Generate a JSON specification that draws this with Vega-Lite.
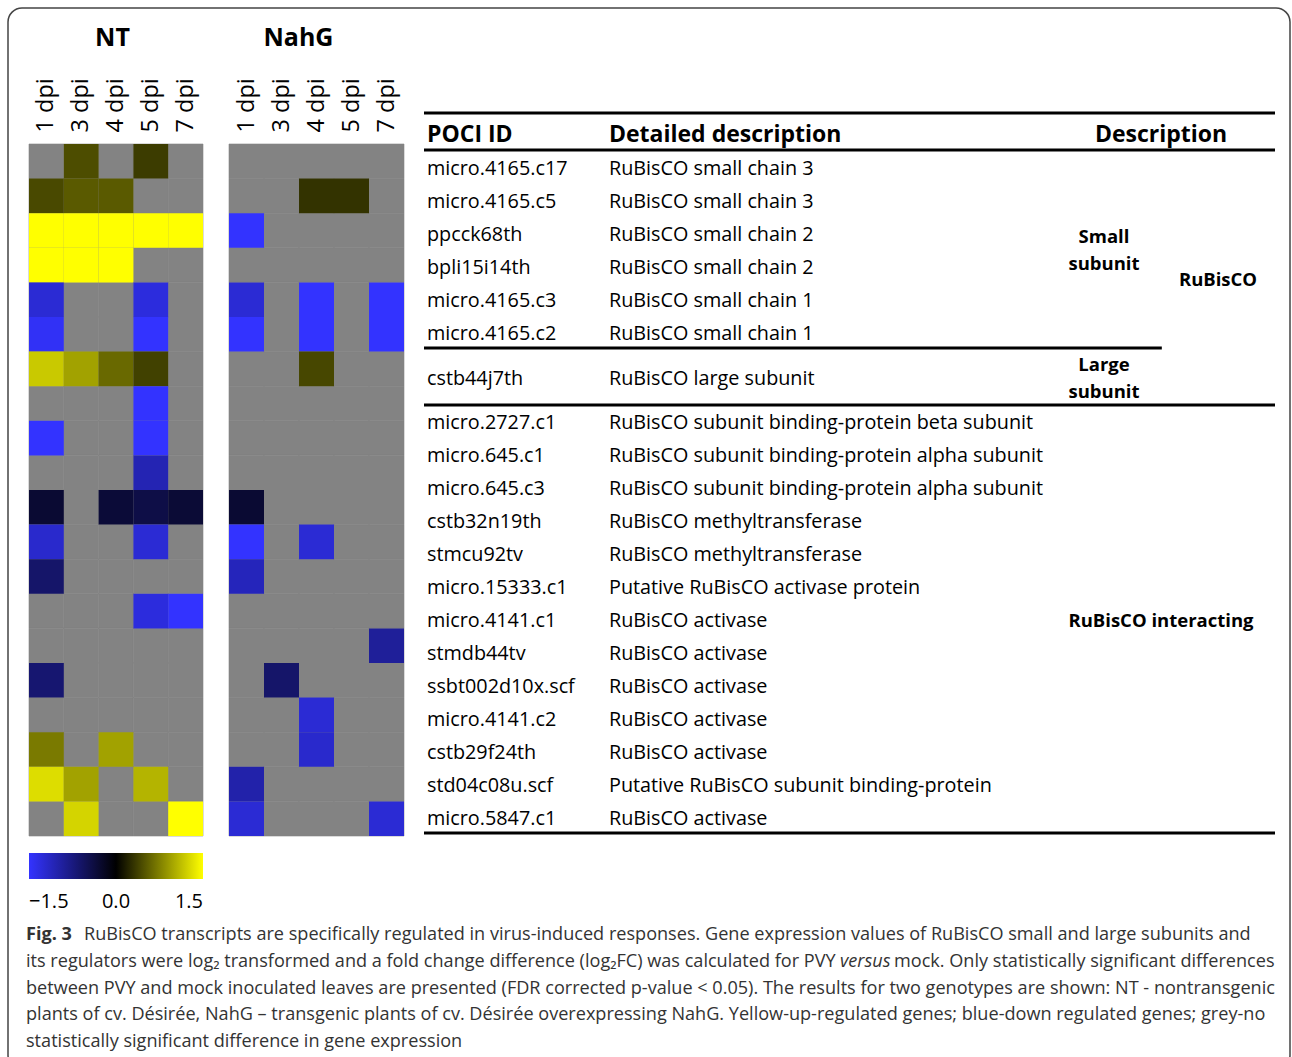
{
  "$schema": "https://vega.github.io/schema/vega-lite/v6.json",
  "width": 1282,
  "height": 1061,
  "padding": {"left": 8, "top": 8, "right": 2, "bottom": -12},
  "autosize": {"type": "none"},
  "background": "white",
  "config": {
    "view": {"stroke": "#444444", "strokeWidth": 1.5, "cornerRadius": 14},
    "font": "Open Sans",
    "text": {"font": "Open Sans", "color": "black"}
  },
  "datasets": {
    "genes": [
      {"id": "micro.4165.c17", "detail": "RuBisCO small chain 3", "grp": "small", "cls": "RuBisCO"},
      {"id": "micro.4165.c5", "detail": "RuBisCO small chain 3", "grp": "small", "cls": "RuBisCO"},
      {"id": "ppcck68th", "detail": "RuBisCO small chain 2", "grp": "small", "cls": "RuBisCO"},
      {"id": "bpli15i14th", "detail": "RuBisCO small chain 2", "grp": "small", "cls": "RuBisCO"},
      {"id": "micro.4165.c3", "detail": "RuBisCO small chain 1", "grp": "small", "cls": "RuBisCO"},
      {"id": "micro.4165.c2", "detail": "RuBisCO small chain 1", "grp": "small", "cls": "RuBisCO"},
      {"id": "cstb44j7th", "detail": "RuBisCO large subunit", "grp": "large", "cls": "RuBisCO"},
      {"id": "micro.2727.c1", "detail": "RuBisCO subunit binding-protein beta subunit", "grp": "inter", "cls": null},
      {"id": "micro.645.c1", "detail": "RuBisCO subunit binding-protein alpha subunit", "grp": "inter", "cls": null},
      {"id": "micro.645.c3", "detail": "RuBisCO subunit binding-protein alpha subunit", "grp": "inter", "cls": null},
      {"id": "cstb32n19th", "detail": "RuBisCO methyltransferase", "grp": "inter", "cls": null},
      {"id": "stmcu92tv", "detail": "RuBisCO methyltransferase", "grp": "inter", "cls": null},
      {"id": "micro.15333.c1", "detail": "Putative RuBisCO activase protein", "grp": "inter", "cls": null},
      {"id": "micro.4141.c1", "detail": "RuBisCO activase", "grp": "inter", "cls": null},
      {"id": "stmdb44tv", "detail": "RuBisCO activase", "grp": "inter", "cls": null},
      {"id": "ssbt002d10x.scf", "detail": "RuBisCO activase", "grp": "inter", "cls": null},
      {"id": "micro.4141.c2", "detail": "RuBisCO activase", "grp": "inter", "cls": null},
      {"id": "cstb29f24th", "detail": "RuBisCO activase", "grp": "inter", "cls": null},
      {"id": "std04c08u.scf", "detail": "Putative RuBisCO subunit binding-protein", "grp": "inter", "cls": null},
      {"id": "micro.5847.c1", "detail": "RuBisCO activase", "grp": "inter", "cls": null}
    ],
    "groups": [
      {"grp": "small", "label": ["Small", "subunit"], "col": "sub"},
      {"grp": "large", "label": ["Large", "subunit"], "col": "sub"},
      {"grp": "inter", "label": "RuBisCO interacting", "col": "all"},
      {"grp": "RuBisCO", "label": "RuBisCO", "col": "cls"}
    ],
    "nt": [
      {"id": "micro.4165.c17", "1 dpi": null, "3 dpi": 0.45, "4 dpi": null, "5 dpi": 0.35, "7 dpi": null},
      {"id": "micro.4165.c5", "1 dpi": 0.43, "3 dpi": 0.53, "4 dpi": 0.53, "5 dpi": null, "7 dpi": null},
      {"id": "ppcck68th", "1 dpi": 1.9, "3 dpi": 1.8, "4 dpi": 1.9, "5 dpi": 1.7, "7 dpi": 1.6},
      {"id": "bpli15i14th", "1 dpi": 1.8, "3 dpi": 1.9, "4 dpi": 1.7, "5 dpi": null, "7 dpi": null},
      {"id": "micro.4165.c3", "1 dpi": -1.25, "3 dpi": null, "4 dpi": null, "5 dpi": -1.3, "7 dpi": null},
      {"id": "micro.4165.c2", "1 dpi": -1.45, "3 dpi": null, "4 dpi": null, "5 dpi": -1.5, "7 dpi": null},
      {"id": "cstb44j7th", "1 dpi": 1.18, "3 dpi": 0.95, "4 dpi": 0.62, "5 dpi": 0.38, "7 dpi": null},
      {"id": "micro.2727.c1", "1 dpi": null, "3 dpi": null, "4 dpi": null, "5 dpi": -1.6, "7 dpi": null},
      {"id": "micro.645.c1", "1 dpi": -1.5, "3 dpi": null, "4 dpi": null, "5 dpi": -1.6, "7 dpi": null},
      {"id": "micro.645.c3", "1 dpi": null, "3 dpi": null, "4 dpi": null, "5 dpi": -1.05, "7 dpi": null},
      {"id": "cstb32n19th", "1 dpi": -0.3, "3 dpi": null, "4 dpi": -0.33, "5 dpi": -0.42, "7 dpi": -0.32},
      {"id": "stmcu92tv", "1 dpi": -1.2, "3 dpi": null, "4 dpi": null, "5 dpi": -1.25, "7 dpi": null},
      {"id": "micro.15333.c1", "1 dpi": -0.62, "3 dpi": null, "4 dpi": null, "5 dpi": null, "7 dpi": null},
      {"id": "micro.4141.c1", "1 dpi": null, "3 dpi": null, "4 dpi": null, "5 dpi": -1.3, "7 dpi": -1.5},
      {"id": "stmdb44tv", "1 dpi": null, "3 dpi": null, "4 dpi": null, "5 dpi": null, "7 dpi": null},
      {"id": "ssbt002d10x.scf", "1 dpi": -0.66, "3 dpi": null, "4 dpi": null, "5 dpi": null, "7 dpi": null},
      {"id": "micro.4141.c2", "1 dpi": null, "3 dpi": null, "4 dpi": null, "5 dpi": null, "7 dpi": null},
      {"id": "cstb29f24th", "1 dpi": 0.72, "3 dpi": null, "4 dpi": 0.95, "5 dpi": null, "7 dpi": null},
      {"id": "std04c08u.scf", "1 dpi": 1.3, "3 dpi": 0.95, "4 dpi": null, "5 dpi": 1.06, "7 dpi": null},
      {"id": "micro.5847.c1", "1 dpi": null, "3 dpi": 1.25, "4 dpi": null, "5 dpi": null, "7 dpi": 1.6}
    ],
    "nahg": [
      {"id": "micro.4165.c17", "1 dpi": null, "3 dpi": null, "4 dpi": null, "5 dpi": null, "7 dpi": null},
      {"id": "micro.4165.c5", "1 dpi": null, "3 dpi": null, "4 dpi": 0.3, "5 dpi": 0.3, "7 dpi": null},
      {"id": "ppcck68th", "1 dpi": -1.5, "3 dpi": null, "4 dpi": null, "5 dpi": null, "7 dpi": null},
      {"id": "bpli15i14th", "1 dpi": null, "3 dpi": null, "4 dpi": null, "5 dpi": null, "7 dpi": null},
      {"id": "micro.4165.c3", "1 dpi": -1.25, "3 dpi": null, "4 dpi": -1.5, "5 dpi": null, "7 dpi": -1.5},
      {"id": "micro.4165.c2", "1 dpi": -1.5, "3 dpi": null, "4 dpi": -1.5, "5 dpi": null, "7 dpi": -1.5},
      {"id": "cstb44j7th", "1 dpi": null, "3 dpi": null, "4 dpi": 0.42, "5 dpi": null, "7 dpi": null},
      {"id": "micro.2727.c1", "1 dpi": null, "3 dpi": null, "4 dpi": null, "5 dpi": null, "7 dpi": null},
      {"id": "micro.645.c1", "1 dpi": null, "3 dpi": null, "4 dpi": null, "5 dpi": null, "7 dpi": null},
      {"id": "micro.645.c3", "1 dpi": null, "3 dpi": null, "4 dpi": null, "5 dpi": null, "7 dpi": null},
      {"id": "cstb32n19th", "1 dpi": -0.3, "3 dpi": null, "4 dpi": null, "5 dpi": null, "7 dpi": null},
      {"id": "stmcu92tv", "1 dpi": -1.5, "3 dpi": null, "4 dpi": -1.25, "5 dpi": null, "7 dpi": null},
      {"id": "micro.15333.c1", "1 dpi": -1.1, "3 dpi": null, "4 dpi": null, "5 dpi": null, "7 dpi": null},
      {"id": "micro.4141.c1", "1 dpi": null, "3 dpi": null, "4 dpi": null, "5 dpi": null, "7 dpi": null},
      {"id": "stmdb44tv", "1 dpi": null, "3 dpi": null, "4 dpi": null, "5 dpi": null, "7 dpi": -0.9},
      {"id": "ssbt002d10x.scf", "1 dpi": null, "3 dpi": -0.62, "4 dpi": null, "5 dpi": null, "7 dpi": null},
      {"id": "micro.4141.c2", "1 dpi": null, "3 dpi": null, "4 dpi": -1.25, "5 dpi": null, "7 dpi": null},
      {"id": "cstb29f24th", "1 dpi": null, "3 dpi": null, "4 dpi": -1.2, "5 dpi": null, "7 dpi": null},
      {"id": "std04c08u.scf", "1 dpi": -1.0, "3 dpi": null, "4 dpi": null, "5 dpi": null, "7 dpi": null},
      {"id": "micro.5847.c1", "1 dpi": -1.25, "3 dpi": null, "4 dpi": null, "5 dpi": null, "7 dpi": -1.25}
    ],
    "caption": [
      {"line": 1, "text": "RuBisCO transcripts are specifically regulated in virus-induced responses. Gene expression values of RuBisCO small and large subunits and"},
      {"line": 2, "text": "its regulators were log₂ transformed and a fold change difference (log₂FC) was calculated for PVY"},
      {"line": 3, "text": "between PVY and mock inoculated leaves are presented (FDR corrected p-value < 0.05). The results for two genotypes are shown: NT - nontransgenic"},
      {"line": 4, "text": "plants of cv. Désirée, NahG – transgenic plants of cv. Désirée overexpressing NahG. Yellow-up-regulated genes; blue-down regulated genes; grey-no"},
      {"line": 5, "text": "statistically significant difference in gene expression"}
    ]
  },
  "resolve": {"scale": {"x": "independent", "y": "independent"}},
  "layer": [
    {
      "data": {"name": "nt"},
      "transform": [{"fold": ["1 dpi", "3 dpi", "4 dpi", "5 dpi", "7 dpi"], "as": ["dpi", "v"]}],
      "mark": {"type": "rect", "fill": "#838383", "stroke": "#838383", "strokeWidth": 0.6},
      "encoding": {
        "x": {"field": "dpi", "type": "nominal",
          "scale": {"domain": ["1 dpi", "3 dpi", "4 dpi", "5 dpi", "7 dpi"], "range": [21, 195], "paddingInner": 0, "paddingOuter": 0},
          "axis": {"orient": "top", "offset": -136, "domain": false, "ticks": false, "tickSize": 0, "grid": false,
            "labelAngle": -90, "labelPadding": 12, "labelFontSize": 23.5, "labelFont": "Open Sans", "labelColor": "black",
            "title": "NT", "titleFontSize": 25, "titleFontWeight": "bold", "titleFont": "Open Sans", "titleColor": "black",
            "titleX": 104, "titleY": -99, "titleBaseline": "alphabetic", "titleAlign": "center", "titleAngle": 0}},
        "y": {"field": "id", "type": "nominal",
          "scale": {"domain": ["micro.4165.c17", "micro.4165.c5", "ppcck68th", "bpli15i14th", "micro.4165.c3", "micro.4165.c2", "cstb44j7th", "micro.2727.c1", "micro.645.c1", "micro.645.c3", "cstb32n19th", "stmcu92tv", "micro.15333.c1", "micro.4141.c1", "stmdb44tv", "ssbt002d10x.scf", "micro.4141.c2", "cstb29f24th", "std04c08u.scf", "micro.5847.c1"], "range": [136, 828], "paddingInner": 0, "paddingOuter": 0},
          "axis": null}
      }
    },
    {
      "data": {"name": "nt"},
      "transform": [{"fold": ["1 dpi", "3 dpi", "4 dpi", "5 dpi", "7 dpi"], "as": ["dpi", "v"]}, {"filter": "isValid(datum.v)"}],
      "mark": {"type": "rect"},
      "encoding": {
        "x": {"field": "dpi", "type": "nominal",
          "scale": {"domain": ["1 dpi", "3 dpi", "4 dpi", "5 dpi", "7 dpi"], "range": [21, 195], "paddingInner": 0, "paddingOuter": 0},
          "axis": null},
        "y": {"field": "id", "type": "nominal",
          "scale": {"domain": ["micro.4165.c17", "micro.4165.c5", "ppcck68th", "bpli15i14th", "micro.4165.c3", "micro.4165.c2", "cstb44j7th", "micro.2727.c1", "micro.645.c1", "micro.645.c3", "cstb32n19th", "stmcu92tv", "micro.15333.c1", "micro.4141.c1", "stmdb44tv", "ssbt002d10x.scf", "micro.4141.c2", "cstb29f24th", "std04c08u.scf", "micro.5847.c1"], "range": [136, 828], "paddingInner": 0, "paddingOuter": 0},
          "axis": null},
        "color": {"field": "v", "type": "quantitative",
          "scale": {"domain": [-1.5, 0, 1.5], "range": ["#3333ff", "#000000", "#ffff00"], "clamp": true, "interpolate": "rgb"},
          "legend": {"type": "gradient", "orient": "none", "legendX": 21, "legendY": 845, "direction": "horizontal", "gradientLength": 174, "gradientThickness": 26,
            "title": null, "values": [-1.5, 0, 1.5], "format": ".1f", "labelFontSize": 20, "labelFont": "Open Sans", "labelColor": "black",
            "labelOffset": 13, "gradientStrokeWidth": 0, "padding": 0}}
      }
    },
    {
      "data": {"name": "nahg"},
      "transform": [{"fold": ["1 dpi", "3 dpi", "4 dpi", "5 dpi", "7 dpi"], "as": ["dpi", "v"]}],
      "mark": {"type": "rect", "fill": "#838383", "stroke": "#838383", "strokeWidth": 0.6},
      "encoding": {
        "x": {"field": "dpi", "type": "nominal",
          "scale": {"domain": ["1 dpi", "3 dpi", "4 dpi", "5 dpi", "7 dpi"], "range": [221, 396], "paddingInner": 0, "paddingOuter": 0},
          "axis": {"orient": "top", "offset": -136, "domain": false, "ticks": false, "tickSize": 0, "grid": false,
            "labelAngle": -90, "labelPadding": 12, "labelFontSize": 23.5, "labelFont": "Open Sans", "labelColor": "black",
            "title": "NahG", "titleFontSize": 25, "titleFontWeight": "bold", "titleFont": "Open Sans", "titleColor": "black",
            "titleX": 290, "titleY": -99, "titleBaseline": "alphabetic", "titleAlign": "center", "titleAngle": 0}},
        "y": {"field": "id", "type": "nominal",
          "scale": {"domain": ["micro.4165.c17", "micro.4165.c5", "ppcck68th", "bpli15i14th", "micro.4165.c3", "micro.4165.c2", "cstb44j7th", "micro.2727.c1", "micro.645.c1", "micro.645.c3", "cstb32n19th", "stmcu92tv", "micro.15333.c1", "micro.4141.c1", "stmdb44tv", "ssbt002d10x.scf", "micro.4141.c2", "cstb29f24th", "std04c08u.scf", "micro.5847.c1"], "range": [136, 828], "paddingInner": 0, "paddingOuter": 0},
          "axis": null}
      }
    },
    {
      "data": {"name": "nahg"},
      "transform": [{"fold": ["1 dpi", "3 dpi", "4 dpi", "5 dpi", "7 dpi"], "as": ["dpi", "v"]}, {"filter": "isValid(datum.v)"}],
      "mark": {"type": "rect"},
      "encoding": {
        "x": {"field": "dpi", "type": "nominal",
          "scale": {"domain": ["1 dpi", "3 dpi", "4 dpi", "5 dpi", "7 dpi"], "range": [221, 396], "paddingInner": 0, "paddingOuter": 0},
          "axis": null},
        "y": {"field": "id", "type": "nominal",
          "scale": {"domain": ["micro.4165.c17", "micro.4165.c5", "ppcck68th", "bpli15i14th", "micro.4165.c3", "micro.4165.c2", "cstb44j7th", "micro.2727.c1", "micro.645.c1", "micro.645.c3", "cstb32n19th", "stmcu92tv", "micro.15333.c1", "micro.4141.c1", "stmdb44tv", "ssbt002d10x.scf", "micro.4141.c2", "cstb29f24th", "std04c08u.scf", "micro.5847.c1"], "range": [136, 828], "paddingInner": 0, "paddingOuter": 0},
          "axis": null},
        "color": {"field": "v", "type": "quantitative",
          "scale": {"domain": [-1.5, 0, 1.5], "range": ["#3333ff", "#000000", "#ffff00"], "clamp": true, "interpolate": "rgb"},
          "legend": {"type": "gradient", "orient": "none", "legendX": 21, "legendY": 845, "direction": "horizontal", "gradientLength": 174, "gradientThickness": 26,
            "title": null, "values": [-1.5, 0, 1.5], "format": ".1f", "labelFontSize": 20, "labelFont": "Open Sans", "labelColor": "black",
            "labelOffset": 13, "gradientStrokeWidth": 0, "padding": 0}}
      }
    },
    {
      "data": {"values": [{"col": "id", "t": "POCI ID", "rank": 0}, {"col": "detail", "t": "Detailed description", "rank": 0}]},
      "mark": {"type": "text", "align": "left", "baseline": "middle", "fontSize": 23, "fontWeight": "bold", "dy": 3},
      "encoding": {
        "x": {"field": "col", "type": "nominal", "scale": {"type": "point", "domain": ["id", "detail"], "range": [419, 601], "padding": 0}, "axis": null},
        "y": {"field": "rank", "type": "quantitative", "scale": {"domain": [-0.5, 0.5, 6.5, 7.5, 20.5], "range": [105, 142, 340, 397, 825], "zero": false, "nice": false}, "axis": null},
        "text": {"field": "t", "type": "nominal"}
      }
    },
    {
      "data": {"values": [{"col": "all", "t": "Description", "rank": 0}]},
      "mark": {"type": "text", "align": "center", "baseline": "middle", "fontSize": 23, "fontWeight": "bold", "dy": 3},
      "encoding": {
        "x": {"field": "col", "type": "nominal", "scale": {"type": "point", "domain": ["sub", "all", "cls"], "range": [1096, 1210], "padding": 0}, "axis": null},
        "y": {"field": "rank", "type": "quantitative", "scale": {"domain": [-0.5, 0.5, 6.5, 7.5, 20.5], "range": [105, 142, 340, 397, 825], "zero": false, "nice": false}, "axis": null},
        "text": {"field": "t", "type": "nominal"}
      }
    },
    {
      "data": {"name": "genes"},
      "transform": [{"window": [{"op": "row_number", "as": "rank"}]}, {"fold": ["id", "detail"], "as": ["col", "t"]}],
      "mark": {"type": "text", "align": "left", "baseline": "middle", "fontSize": 19.8, "dy": 2},
      "encoding": {
        "x": {"field": "col", "type": "nominal", "scale": {"type": "point", "domain": ["id", "detail"], "range": [419, 601], "padding": 0}, "axis": null},
        "y": {"field": "rank", "type": "quantitative", "scale": {"domain": [-0.5, 0.5, 6.5, 7.5, 20.5], "range": [105, 142, 340, 397, 825], "zero": false, "nice": false}, "axis": null},
        "text": {"field": "t", "type": "nominal"}
      }
    },
    {
      "data": {"name": "genes"},
      "transform": [
        {"window": [{"op": "row_number", "as": "rank"}]},
        {"filter": "datum.grp !== 'inter'"},
        {"aggregate": [{"op": "mean", "field": "rank", "as": "rank"}], "groupby": ["grp"]},
        {"lookup": "grp", "from": {"data": {"name": "groups"}, "key": "grp", "fields": ["label", "col"]}}
      ],
      "mark": {"type": "text", "align": "center", "baseline": "middle", "fontSize": 18.5, "fontWeight": "bold", "lineHeight": 27, "dy": -12},
      "encoding": {
        "x": {"field": "col", "type": "nominal", "scale": {"type": "point", "domain": ["sub", "all", "cls"], "range": [1096, 1210], "padding": 0}, "axis": null},
        "y": {"field": "rank", "type": "quantitative", "scale": {"domain": [-0.5, 0.5, 6.5, 7.5, 20.5], "range": [105, 142, 340, 397, 825], "zero": false, "nice": false}, "axis": null},
        "text": {"field": "label", "type": "nominal"}
      }
    },
    {
      "data": {"name": "genes"},
      "transform": [
        {"window": [{"op": "row_number", "as": "rank"}]},
        {"filter": "datum.grp === 'inter'"},
        {"aggregate": [{"op": "mean", "field": "rank", "as": "rank"}], "groupby": ["grp"]},
        {"lookup": "grp", "from": {"data": {"name": "groups"}, "key": "grp", "fields": ["label", "col"]}}
      ],
      "mark": {"type": "text", "align": "center", "baseline": "middle", "fontSize": 18.5, "fontWeight": "bold", "dy": 2},
      "encoding": {
        "x": {"field": "col", "type": "nominal", "scale": {"type": "point", "domain": ["sub", "all", "cls"], "range": [1096, 1210], "padding": 0}, "axis": null},
        "y": {"field": "rank", "type": "quantitative", "scale": {"domain": [-0.5, 0.5, 6.5, 7.5, 20.5], "range": [105, 142, 340, 397, 825], "zero": false, "nice": false}, "axis": null},
        "text": {"field": "label", "type": "nominal"}
      }
    },
    {
      "data": {"name": "genes"},
      "transform": [
        {"window": [{"op": "row_number", "as": "rank"}]},
        {"filter": "datum.cls === 'RuBisCO'"},
        {"aggregate": [{"op": "mean", "field": "rank", "as": "rank"}], "groupby": ["cls"]},
        {"lookup": "cls", "from": {"data": {"name": "groups"}, "key": "grp", "fields": ["label", "col"]}}
      ],
      "mark": {"type": "text", "align": "center", "baseline": "middle", "fontSize": 18.5, "fontWeight": "bold", "dy": 14},
      "encoding": {
        "x": {"field": "col", "type": "nominal", "scale": {"type": "point", "domain": ["sub", "all", "cls"], "range": [1096, 1210], "padding": 0}, "axis": null},
        "y": {"field": "rank", "type": "quantitative", "scale": {"domain": [-0.5, 0.5, 6.5, 7.5, 20.5], "range": [105, 142, 340, 397, 825], "zero": false, "nice": false}, "axis": null},
        "text": {"field": "label", "type": "nominal"}
      }
    },
    {
      "data": {"values": [{"edge": -0.5}, {"edge": 0.5}, {"edge": 7.5}, {"edge": 20.5}]},
      "mark": {"type": "rule", "color": "black", "strokeWidth": 3},
      "encoding": {
        "x": {"datum": 0, "type": "quantitative", "scale": {"domain": [0, 1], "range": [416, 1267], "zero": false, "nice": false}, "axis": null},
        "x2": {"datum": 1},
        "y": {"field": "edge", "type": "quantitative", "scale": {"domain": [-0.5, 0.5, 6.5, 7.5, 20.5], "range": [105, 142, 340, 397, 825], "zero": false, "nice": false}, "axis": null}
      }
    },
    {
      "data": {"values": [{"edge": 6.5}]},
      "mark": {"type": "rule", "color": "black", "strokeWidth": 3},
      "encoding": {
        "x": {"datum": 0, "type": "quantitative", "scale": {"domain": [0, 1], "range": [416, 1267], "zero": false, "nice": false}, "axis": null},
        "x2": {"datum": 0.867},
        "y": {"field": "edge", "type": "quantitative", "scale": {"domain": [-0.5, 0.5, 6.5, 7.5, 20.5], "range": [105, 142, 340, 397, 825], "zero": false, "nice": false}, "axis": null}
      }
    },
    {
      "data": {"values": [{"line": 1, "text": "Fig. 3"}]},
      "mark": {"type": "text", "align": "left", "baseline": "alphabetic", "fontSize": 18.1, "fontWeight": "bold", "color": "#333333"},
      "encoding": {
        "x": {"datum": 0, "type": "quantitative", "scale": {"domain": [0, 1], "range": [18, 1264], "zero": false, "nice": false}, "axis": null},
        "y": {"field": "line", "type": "ordinal", "scale": {"type": "point", "domain": [1, 2, 3, 4, 5], "range": [932, 1039], "padding": 0}, "axis": null},
        "text": {"field": "text", "type": "nominal"}
      }
    },
    {
      "data": {"name": "caption"},
      "transform": [{"filter": "datum.line === 1"}],
      "mark": {"type": "text", "align": "left", "baseline": "alphabetic", "fontSize": 18.1, "color": "#333333", "dx": 58},
      "encoding": {
        "x": {"datum": 0, "type": "quantitative", "scale": {"domain": [0, 1], "range": [18, 1264], "zero": false, "nice": false}, "axis": null},
        "y": {"field": "line", "type": "ordinal", "scale": {"type": "point", "domain": [1, 2, 3, 4, 5], "range": [932, 1039], "padding": 0}, "axis": null},
        "text": {"field": "text", "type": "nominal"}
      }
    },
    {
      "data": {"name": "caption"},
      "transform": [{"filter": "datum.line > 1"}],
      "mark": {"type": "text", "align": "left", "baseline": "alphabetic", "fontSize": 18.1, "color": "#333333"},
      "encoding": {
        "x": {"datum": 0, "type": "quantitative", "scale": {"domain": [0, 1], "range": [18, 1264], "zero": false, "nice": false}, "axis": null},
        "y": {"field": "line", "type": "ordinal", "scale": {"type": "point", "domain": [1, 2, 3, 4, 5], "range": [932, 1039], "padding": 0}, "axis": null},
        "text": {"field": "text", "type": "nominal"}
      }
    },
    {
      "data": {"values": [{"line": 2, "text": "versus"}]},
      "mark": {"type": "text", "align": "left", "baseline": "alphabetic", "fontSize": 18.1, "color": "#333333", "fontStyle": "italic", "dx": 814},
      "encoding": {
        "x": {"datum": 0, "type": "quantitative", "scale": {"domain": [0, 1], "range": [18, 1264], "zero": false, "nice": false}, "axis": null},
        "y": {"field": "line", "type": "ordinal", "scale": {"type": "point", "domain": [1, 2, 3, 4, 5], "range": [932, 1039], "padding": 0}, "axis": null},
        "text": {"field": "text", "type": "nominal"}
      }
    },
    {
      "data": {"values": [{"line": 2, "text": "mock. Only statistically significant differences"}]},
      "mark": {"type": "text", "align": "left", "baseline": "alphabetic", "fontSize": 18.1, "color": "#333333", "dx": 868},
      "encoding": {
        "x": {"datum": 0, "type": "quantitative", "scale": {"domain": [0, 1], "range": [18, 1264], "zero": false, "nice": false}, "axis": null},
        "y": {"field": "line", "type": "ordinal", "scale": {"type": "point", "domain": [1, 2, 3, 4, 5], "range": [932, 1039], "padding": 0}, "axis": null},
        "text": {"field": "text", "type": "nominal"}
      }
    }
  ]
}
